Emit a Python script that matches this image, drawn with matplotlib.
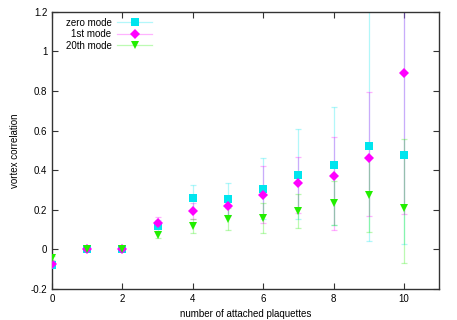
import matplotlib
matplotlib.use("Agg")
import matplotlib.pyplot as plt
import numpy as np
from matplotlib.lines import Line2D
from matplotlib.colors import to_rgb

plt.rcParams['font.family'] = ['Liberation Sans', 'DejaVu Sans']

x = [0, 1, 2, 3, 4, 5, 6, 7, 8, 9, 10]

zero_mode = [-0.08, 0.0, 0.0, 0.12, 0.26, 0.255, 0.305, 0.375, 0.425, 0.52, 0.475]
zero_lo = [0.01, 0.0, 0.0, 0.03, 0.06, 0.08, 0.15, 0.22, 0.30, 0.48, 0.45]
zero_hi = [0.01, 0.0, 0.0, 0.03, 0.065, 0.08, 0.155, 0.235, 0.295, 0.75, 0.75]

first_mode = [-0.075, 0.0, 0.0, 0.135, 0.195, 0.22, 0.275, 0.335, 0.37, 0.46, 0.89]
first_lo = [0.01, 0.0, 0.0, 0.03, 0.04, 0.05, 0.14, 0.15, 0.27, 0.29, 0.71]
first_hi = [0.01, 0.0, 0.0, 0.03, 0.04, 0.05, 0.145, 0.13, 0.20, 0.335, 0.71]

twentieth_mode = [-0.045, 0.0, 0.0, 0.075, 0.12, 0.155, 0.16, 0.195, 0.235, 0.275, 0.21]
twentieth_lo = [0.01, 0.0, 0.0, 0.02, 0.035, 0.055, 0.075, 0.085, 0.11, 0.185, 0.28]
twentieth_hi = [0.01, 0.0, 0.0, 0.02, 0.035, 0.055, 0.075, 0.085, 0.11, 0.185, 0.35]

labels = ["zero mode", "1st mode", "20th mode"]
xticks = [0, 2, 4, 6, 8, 10]
yticks = [-0.2, 0, 0.2, 0.4, 0.6, 0.8, 1, 1.2]
ytick_labels = ["-0.2", "0", "0.2", "0.4", "0.6", "0.8", "1", "1.2"]

fig = plt.figure(figsize=(4.57, 3.2), dpi=100)
ax = fig.add_axes([0.114, 0.097, 0.847, 0.866])

series = [
    (zero_mode, zero_lo, zero_hi, "#00e5ee", "s", 5.6),
    (first_mode, first_lo, first_hi, "#ff00ff", "D", 4.6),
    (twentieth_mode, twentieth_lo, twentieth_hi, "#22ee00", "v", 6.2),
]

def lighten(c, a):
    r, g, b = to_rgb(c)
    return (1 - a + a * r, 1 - a + a * g, 1 - a + a * b)

handles = []
for (vals, lo, hi, col, mk, ms), lab in zip(series, labels):
    ax.errorbar(x, vals, yerr=[lo, hi], fmt='none', ecolor=col, elinewidth=0.9,
                capsize=2, capthick=0.9, alpha=0.3, zorder=2)
    ax.plot(x, vals, linestyle='none', marker=mk, markersize=ms, color=col,
            markeredgewidth=0, zorder=3)
    handles.append(Line2D([], [], color=lighten(col, 0.3), linewidth=0.9,
                          marker=mk, markersize=ms, markeredgewidth=0,
                          markerfacecolor=col))

leg = ax.legend(handles, labels, loc='upper left', markerfirst=False,
                frameon=False, fontsize=7, handlelength=3.6,
                handletextpad=0.6, labelspacing=0.15,
                borderaxespad=0.2, bbox_to_anchor=(0.02, 1.0))

ax.set_xlim(0, 11)
ax.set_ylim(-0.2, 1.2)
ax.set_xticks(xticks)
ax.set_xticklabels([str(t) for t in xticks])
ax.set_yticks(yticks)
ax.set_yticklabels(ytick_labels)
ax.tick_params(direction='in', length=4, width=0.8, labelsize=7,
               top=True, right=True, colors='#333333', labelcolor='black')
for sp in ax.spines.values():
    sp.set_linewidth(1.0)
    sp.set_color('#333333')

ax.set_xlabel("number of attached plaquettes", fontsize=7, labelpad=4)
ax.set_ylabel("vortex correlation", fontsize=7, labelpad=8)

fig.savefig("out.png", dpi=100)
